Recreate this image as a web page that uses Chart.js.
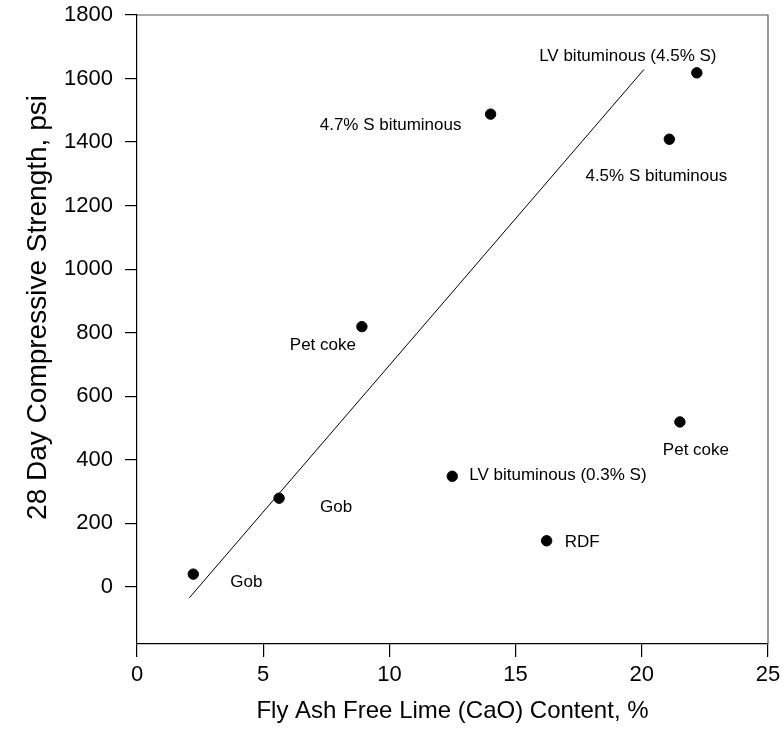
<!DOCTYPE html>
<html>
<head>
<meta charset="utf-8">
<script src="https://cdn.jsdelivr.net/npm/chart.js@4"></script>
<style>
  html, body { margin: 0; padding: 0; background: #fff; }
  #wrap { width: 784px; height: 749px; position: relative; }
</style>
</head>
<body>
<div id="wrap"><canvas id="c" width="784" height="749"></canvas></div>
<script>
// ---- data ----
const limeContent = [2.23, 5.63, 8.91, 14.01, 22.18, 21.09, 21.51, 12.49, 16.23];
const strength    = [40, 279, 819, 1488, 1618, 1409, 519, 348, 145];
const pointLabels = ["Gob", "Gob", "Pet coke", "4.7% S bituminous", "LV bituminous (4.5% S)",
                     "4.5% S bituminous", "Pet coke", "LV bituminous (0.3% S)", "RDF"];
const fitX = [2.07, 20.09];
const fitY = [-35, 1629];
const xTicks = [0, 5, 10, 15, 20, 25];
const yTicks = [0, 200, 400, 600, 800, 1000, 1200, 1400, 1600, 1800];
const xTitle = "Fly Ash Free Lime (CaO) Content, %";
const yTitle = "28 Day Compressive Strength, psi";

// ---- label placement (pixel offsets from each point) ----
const labelPlacement = [
  {dx: 53, dy: 8, align: 'center'},
  {dx: 57, dy: 9, align: 'center'},
  {dx: -39, dy: 19, align: 'center'},
  {dx: -100, dy: 11, align: 'center'},
  {dx: -69, dy: -17, align: 'center'},
  {dx: -13, dy: 37, align: 'center'},
  {dx: 16, dy: 28, align: 'center'},
  {dx: 17, dy: -1, align: 'left'},
  {dx: 18, dy: 2, align: 'left'}
];

const FONT = "'Liberation Sans', Arial, Helvetica, sans-serif";

const labelPlugin = {
  id: 'pointLabels',
  afterDatasetsDraw(chart) {
    const ctx = chart.ctx;
    const meta = chart.getDatasetMeta(0);
    ctx.save();
    ctx.font = "17px " + FONT;
    ctx.fillStyle = '#000';
    ctx.textBaseline = 'middle';
    meta.data.forEach((el, i) => {
      const p = labelPlacement[i];
      ctx.textAlign = p.align;
      ctx.fillText(pointLabels[i], el.x + p.dx, el.y + p.dy);
    });
    ctx.restore();
  }
};

const framePlugin = {
  id: 'frame',
  afterDraw(chart) {
    const a = chart.chartArea;
    const ctx = chart.ctx;
    ctx.save();
    ctx.strokeStyle = '#555';
    ctx.lineWidth = 1.2;
    ctx.beginPath();
    ctx.moveTo(a.left, a.top);
    ctx.lineTo(a.right, a.top);
    ctx.lineTo(a.right, a.bottom);
    ctx.stroke();
    // y-axis title, placed as in the original figure
    ctx.font = "28px " + FONT;
    ctx.fillStyle = '#000';
    ctx.textAlign = 'center';
    ctx.textBaseline = 'middle';
    ctx.translate(38, a.top + (a.bottom - a.top) * 0.465);
    ctx.rotate(-Math.PI / 2);
    ctx.fillText(yTitle, 0, 0);
    ctx.restore();
  }
};

new Chart(document.getElementById('c'), {
  type: 'scatter',
  data: {
    datasets: [
      {
        label: 'data',
        data: limeContent.map((x, i) => ({x: x, y: strength[i]})),
        backgroundColor: '#000',
        borderColor: '#000',
        pointRadius: 5.2,
        pointHoverRadius: 5.2,
        showLine: false
      },
      {
        label: 'fit',
        data: fitX.map((x, i) => ({x: x, y: fitY[i]})),
        showLine: true,
        borderColor: '#000',
        borderWidth: 1,
        pointRadius: 0,
        fill: false
      }
    ]
  },
  options: {
    responsive: false,
    animation: false,
    devicePixelRatio: 1,
    layout: { padding: { top: 15, right: 16, left: 0, bottom: 0 } },
    plugins: { legend: { display: false }, tooltip: { enabled: false } },
    scales: {
      x: {
        type: 'linear',
        min: 0, max: 25,
        afterBuildTicks: s => { s.ticks = xTicks.map(v => ({value: v})); },
        afterFit: s => { s.height = 105; s.paddingLeft = 0; s.paddingRight = 0; },
        grid: { display: true, drawOnChartArea: false, drawTicks: true, tickLength: 13, color: '#000', lineWidth: 1.2 },
        border: { display: true, color: '#000', width: 1.2 },
        ticks: { color: '#000', font: { family: FONT, size: 22 }, padding: 5, maxRotation: 0, callback: v => String(v) },
        title: { display: true, text: xTitle, color: '#000', font: { family: FONT, size: 24 }, padding: { top: 0, bottom: 23 } }
      },
      y: {
        type: 'linear',
        min: -180, max: 1800,
        afterBuildTicks: s => { s.ticks = yTicks.map(v => ({value: v})); },
        afterFit: s => { s.width = 137; s.paddingTop = 0; s.paddingBottom = 0; },
        grid: { display: true, drawOnChartArea: false, drawTicks: true, tickLength: 12, color: '#000', lineWidth: 1.2 },
        border: { display: true, color: '#000', width: 1.2 },
        ticks: { color: '#000', font: { family: FONT, size: 22 }, padding: 12, callback: v => String(v) },
        title: { display: false }
      }
    }
  },
  plugins: [labelPlugin, framePlugin]
});
</script>
</body>
</html>
